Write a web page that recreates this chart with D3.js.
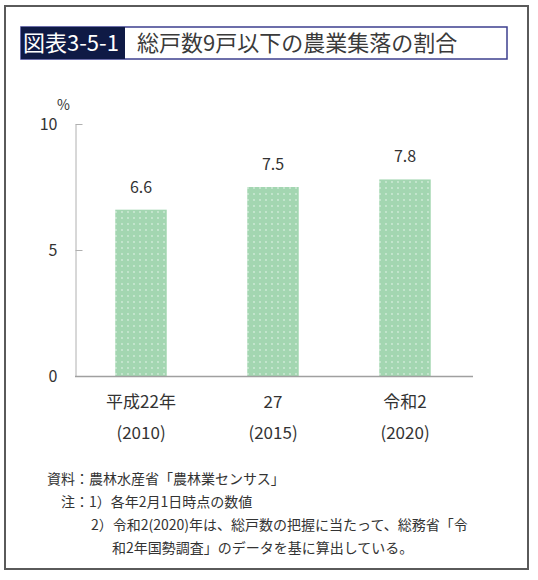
<!DOCTYPE html>
<html>
<head>
<meta charset="utf-8">
<script src="https://cdn.jsdelivr.net/npm/d3@7"></script>
<style>
  body { margin: 0; background: #fff; }
  text { font-family: "Noto Sans CJK JP", "Noto Sans", sans-serif; fill: #333; }
</style>
</head>
<body>
<div id="chart"></div>
<script>
// data
var categories = ['平成22年', '27', '令和2'];
var years = ['(2010)', '(2015)', '(2020)'];
var values = [6.6, 7.5, 7.8];
var yTicks = [0, 5, 10];
var notes = [
  { x: 47, t: '資料：農林水産省「農林業センサス」' },
  { x: 61, t: '注：1）各年2月1日時点の数値' },
  { x: 91, t: '2）令和2(2020)年は、総戸数の把握に当たって、総務省「令' },
  { x: 112, t: '和2年国勢調査」のデータを基に算出している。' }
];

var width = 538, height = 580;

var svg = d3.select('#chart').append('svg')
    .attr('width', width)
    .attr('height', height);

// frame
svg.append('rect')
    .attr('x', 5).attr('y', 6)
    .attr('width', 523).attr('height', 563)
    .attr('fill', '#fff')
    .attr('stroke', '#5a5a5a')
    .attr('stroke-width', 2);

// title
svg.append('rect')
    .attr('x', 21).attr('y', 27)
    .attr('width', 486).attr('height', 32)
    .attr('fill', '#fff')
    .attr('stroke', '#3d3f8e')
    .attr('stroke-width', 1.5);
svg.append('rect')
    .attr('x', 21).attr('y', 27)
    .attr('width', 104).attr('height', 32)
    .attr('fill', '#0f1a45');
svg.append('text')
    .attr('x', 23).attr('y', 51)
    .style('font-size', '22px')
    .style('fill', '#fff')
    .text('図表3-5-1');
svg.append('text')
    .attr('x', 137).attr('y', 51)
    .style('font-size', '22px')
    .style('fill', '#3a3a3a')
    .text('総戸数9戸以下の農業集落の割合');

// dot pattern for bars
var defs = svg.append('defs');
var pat = defs.append('pattern')
    .attr('id', 'dots')
    .attr('patternUnits', 'userSpaceOnUse')
    .attr('width', 6).attr('height', 6);
pat.append('rect')
    .attr('width', 6).attr('height', 6)
    .attr('fill', '#a3d6b1');
pat.append('circle')
    .attr('cx', 2).attr('cy', 2).attr('r', 0.9)
    .attr('fill', '#d2ecd9');

// scales
var y = d3.scaleLinear()
    .domain([0, 10])
    .range([376, 124]);

var x = d3.scaleBand()
    .domain(categories)
    .range([75, 471])
    .paddingInner(0.61)
    .paddingOuter(0.305);

// y axis
var yAxis = d3.axisLeft(y)
    .tickValues(yTicks)
    .tickSizeInner(-7)
    .tickSizeOuter(0)
    .tickPadding(18);

var gy = svg.append('g')
    .attr('transform', 'translate(75.5,0)')
    .call(yAxis);
gy.select('.domain').attr('stroke', '#b0b0b0');
gy.selectAll('.tick line').attr('stroke', '#b0b0b0');
gy.selectAll('.tick text')
    .style('font-size', '16px')
    .style('fill', '#333');

svg.append('text')
    .attr('x', 57).attr('y', 110)
    .style('font-size', '14px')
    .text('%');

// bars
svg.append('g').selectAll('rect')
    .data(values)
    .enter().append('rect')
    .attr('x', (d, i) => x(categories[i]))
    .attr('y', d => y(d))
    .attr('width', x.bandwidth())
    .attr('height', d => y(0) - y(d))
    .attr('fill', 'url(#dots)');

// value labels
svg.append('g').selectAll('text')
    .data(values)
    .enter().append('text')
    .attr('x', (d, i) => x(categories[i]) + x.bandwidth() / 2)
    .attr('y', d => y(d) - 17)
    .attr('text-anchor', 'middle')
    .style('font-size', '16px')
    .text(d => d.toFixed(1));

// baseline
svg.append('line')
    .attr('x1', 75).attr('x2', 473)
    .attr('y1', y(0) + 0.5).attr('y2', y(0) + 0.5)
    .attr('stroke', '#a0a0a0')
    .attr('stroke-width', 1.5);

// x labels
var xl = svg.append('g').selectAll('g')
    .data(categories)
    .enter().append('g')
    .attr('transform', d => 'translate(' + (x(d) + x.bandwidth() / 2) + ',0)');
xl.append('text')
    .attr('y', 408)
    .attr('text-anchor', 'middle')
    .style('font-size', '17px')
    .text(d => d);
xl.append('text')
    .attr('y', 439)
    .attr('text-anchor', 'middle')
    .style('font-size', '17px')
    .text((d, i) => years[i]);

// notes
svg.append('g').selectAll('text')
    .data(notes)
    .enter().append('text')
    .attr('x', d => d.x)
    .attr('y', (d, i) => 484 + i * 23)
    .style('font-size', '14px')
    .text(d => d.t);
</script>
</body>
</html>
